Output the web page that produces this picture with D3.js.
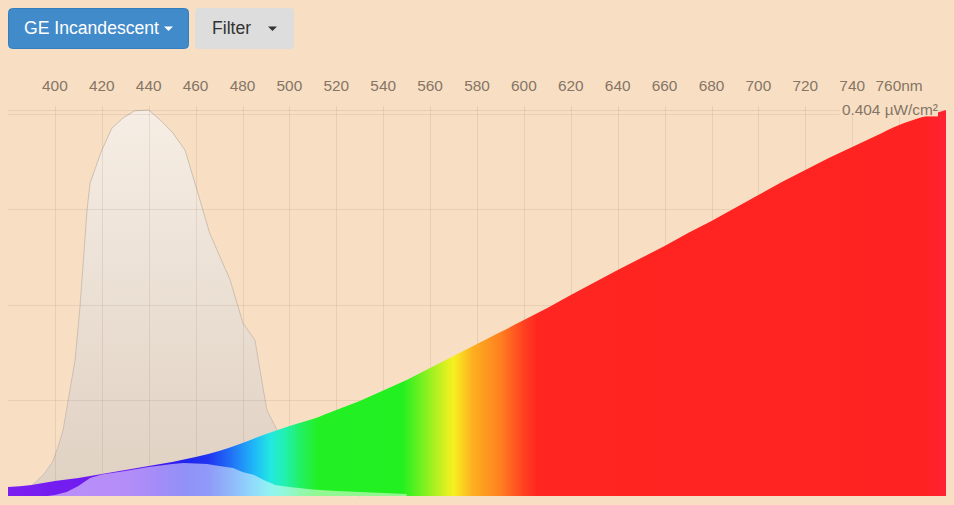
<!DOCTYPE html>
<html>
<head>
<meta charset="utf-8">
<script src="https://cdn.jsdelivr.net/npm/d3@7/dist/d3.min.js"></script>
<style>
  html, body { margin: 0; padding: 0; background: #f8dfc4; overflow: hidden; }
  svg { display: block; font-family: "Liberation Sans", Arial, Helvetica, sans-serif; }
</style>
</head>
<body>
<div id="chart"></div>
<script>
// incandescent spectrum, µW/cm² per wavelength (nm)
const spectrumNm = [380, 390, 400, 410, 420, 430, 440, 450, 460, 470, 480, 490, 500, 510, 520, 530, 540, 550, 560, 570,
  580, 590, 600, 610, 620, 630, 640, 650, 660, 670, 680, 690, 700, 710, 720, 730, 740, 750, 760, 770, 780];
const spectrumValue = [0.0094, 0.0115, 0.0157, 0.0188, 0.0230, 0.0272, 0.0314, 0.0356, 0.0408, 0.0471, 0.0555, 0.0649,
  0.0733, 0.0806, 0.0900, 0.0994, 0.1104, 0.1214, 0.1340, 0.1465, 0.1591, 0.1716, 0.1842, 0.1968, 0.2104, 0.2235,
  0.2365, 0.2491, 0.2617, 0.2753, 0.2878, 0.3014, 0.3150, 0.3286, 0.3412, 0.3538, 0.3653, 0.3768, 0.3883, 0.3967, 0.4040];

// spectrum weighted by the sensitivity curve (lighter area)
const weightedNm = [397, 400, 405, 410, 415, 420, 430, 440, 450, 455, 460, 465, 470, 476, 480, 485, 489, 494, 500, 510,
  520, 530, 540, 550, 550];
const weightedValue = [0, 0.0010, 0.0042, 0.0105, 0.0188, 0.0225, 0.0262, 0.0304, 0.0335, 0.0345, 0.0340, 0.0335,
  0.0314, 0.0293, 0.0251, 0.0220, 0.0167, 0.0115, 0.0094, 0.0068, 0.0052, 0.0042, 0.0031, 0.0021, 0];

// relative sensitivity (0..1)
const sensNm = [385, 390, 395, 399, 401.5, 403.5, 406, 408.6, 410.7, 413.7, 415, 420, 424.3, 429, 434, 440, 445, 450.4,
  455.5, 460.6, 466, 474.7, 480.2, 485.3, 488.7, 490.4, 494.7, 500, 510, 520, 530];
const sensValue = [0.010, 0.026, 0.054, 0.088, 0.130, 0.171, 0.260, 0.352, 0.490, 0.741, 0.811, 0.896, 0.953, 0.979,
  0.998, 1.0, 0.974, 0.940, 0.896, 0.793, 0.681, 0.560, 0.448, 0.404, 0.282, 0.223, 0.171, 0.110, 0.050, 0.020, 0];

const xTicks = [400, 420, 440, 460, 480, 500, 520, 540, 560, 580, 600, 620, 640, 660, 680, 700, 720, 740, 760];
const maxPower = 0.404;
const unitLabel = "µW/cm²";

const rainbowStopNm = [380, 430, 445, 455, 465, 475, 485, 492, 498, 505, 512, 548, 556, 564, 570, 578, 590, 600, 606, 770, 780];
const rainbowStopColor = ["#7b1ff0", "#6a1af0", "#4418f0", "#2222ee", "#2033f0", "#2070f5", "#20b8f8", "#22e8e0",
  "#22f0b0", "#22f060", "#22f025", "#22f020", "#70f020", "#c0f020", "#f8f020", "#fcb020", "#ff8020", "#ff4020",
  "#ff2520", "#ff2222", "#ff2233"];

const width = 954, height = 505;
const x = d3.scaleLinear().domain([380, 780]).range([8, 946]);
const y = d3.scaleLinear().domain([0, maxPower]).range([496, 110]);
const ySens = d3.scaleLinear().domain([0, 1]).range([496, 110]);

const svg = d3.select("#chart").append("svg").attr("width", width).attr("height", height);
const defs = svg.append("defs");

function hGradient(id, colorFn) {
  const g = defs.append("linearGradient").attr("id", id)
    .attr("gradientUnits", "userSpaceOnUse")
    .attr("x1", x(380)).attr("x2", x(780)).attr("y1", 0).attr("y2", 0);
  g.selectAll("stop").data(rainbowStopNm).enter().append("stop")
    .attr("offset", (d) => (d - 380) / 400)
    .attr("stop-color", (d, i) => colorFn(rainbowStopColor[i]));
}
hGradient("rainbow", (c) => c);
hGradient("rainbowLight", (c) => d3.interpolateRgb(c, "#ffffff")(0.5));

const sensGrad = defs.append("linearGradient").attr("id", "sensGrad")
  .attr("gradientUnits", "userSpaceOnUse").attr("x1", 0).attr("x2", 0).attr("y1", y(maxPower)).attr("y2", y(0));
sensGrad.append("stop").attr("offset", 0).attr("stop-color", "#f6ede4");
sensGrad.append("stop").attr("offset", 1).attr("stop-color", "#dfd1c2");

svg.append("rect").attr("width", width).attr("height", height).attr("fill", "#f8dfc4");

// dropdown buttons
const btn = svg.append("g").attr("class", "buttons");
btn.append("rect").attr("x", 8.5).attr("y", 8.5).attr("width", 180).attr("height", 40).attr("rx", 4)
  .attr("fill", "#428bca").attr("stroke", "#357ebd");
btn.append("text").attr("x", 24).attr("y", 33.5).attr("font-size", 17.6).attr("fill", "#fff").text("GE Incandescent");
btn.append("path").attr("d", "M164,26.5L173,26.5L168.5,31Z").attr("fill", "#fff");
btn.append("rect").attr("x", 195).attr("y", 8).attr("width", 99).attr("height", 41).attr("rx", 4).attr("fill", "#dddddd");
btn.append("text").attr("x", 212).attr("y", 33.5).attr("font-size", 17.6).attr("fill", "#333").text("Filter");
btn.append("path").attr("d", "M268,26.5L277,26.5L272.5,31Z").attr("fill", "#333");

// sensitivity curve
const sensData = sensNm.map((d, i) => ({ nm: d, v: sensValue[i] }));
svg.append("path").datum(sensData)
  .attr("d", d3.area().x((d) => x(d.nm)).y0(ySens(0)).y1((d) => ySens(d.v)))
  .attr("fill", "url(#sensGrad)");
svg.append("path").datum(sensData)
  .attr("d", d3.line().x((d) => x(d.nm)).y((d) => ySens(d.v)))
  .attr("fill", "none").attr("stroke", "#cdbfb1").attr("stroke-width", 1);

// grid
const grid = svg.append("g").attr("class", "grid").attr("stroke", "rgba(120,90,60,0.12)").attr("shape-rendering", "crispEdges");
grid.selectAll("line.v").data(xTicks).enter().append("line").attr("class", "v")
  .attr("x1", (d) => Math.round(x(d)) + 0.5).attr("x2", (d) => Math.round(x(d)) + 0.5)
  .attr("y1", y(maxPower) - 4).attr("y2", y(0));
grid.selectAll("line.h").data(y.ticks(4).filter((d) => d > 0).concat([maxPower])).enter().append("line").attr("class", "h")
  .attr("x1", x(380)).attr("x2", x(780))
  .attr("y1", (d) => Math.round(y(d)) + 0.5).attr("y2", (d) => Math.round(y(d)) + 0.5);

// spectrum
const specData = spectrumNm.map((d, i) => ({ nm: d, v: spectrumValue[i] }));
svg.append("path").datum(specData)
  .attr("d", d3.area().x((d) => x(d.nm)).y0(y(0)).y1((d) => y(d.v)).curve(d3.curveMonotoneX))
  .attr("fill", "url(#rainbow)");

const weightedData = weightedNm.map((d, i) => ({ nm: d, v: weightedValue[i] }));
svg.append("path").datum(weightedData)
  .attr("d", d3.area().x((d) => x(d.nm)).y0(y(0)).y1((d) => y(d.v)))
  .attr("fill", "url(#rainbowLight)");

// axis labels
svg.append("g").attr("class", "axis").selectAll("text").data(xTicks).enter().append("text")
  .attr("x", (d) => x(d)).attr("y", 90.5).attr("text-anchor", "middle")
  .attr("font-size", 15.4).attr("fill", "#857565")
  .text((d, i) => i === xTicks.length - 1 ? d + "nm" : d);

// max label
const maxG = svg.append("g");
const maxText = maxG.append("text").attr("x", x(780) - 8).attr("y", y(maxPower)).attr("dy", "0.35em")
  .attr("text-anchor", "end").attr("font-size", 15.4).attr("fill", "#857565")
  .text(maxPower + " " + unitLabel);
const bb = maxText.node().getBBox();
maxG.insert("rect", "text").attr("x", bb.x - 2).attr("y", bb.y + 2).attr("width", bb.width + 2).attr("height", bb.height - 4)
  .attr("fill", "#f8dfc4");
</script>
</body>
</html>
